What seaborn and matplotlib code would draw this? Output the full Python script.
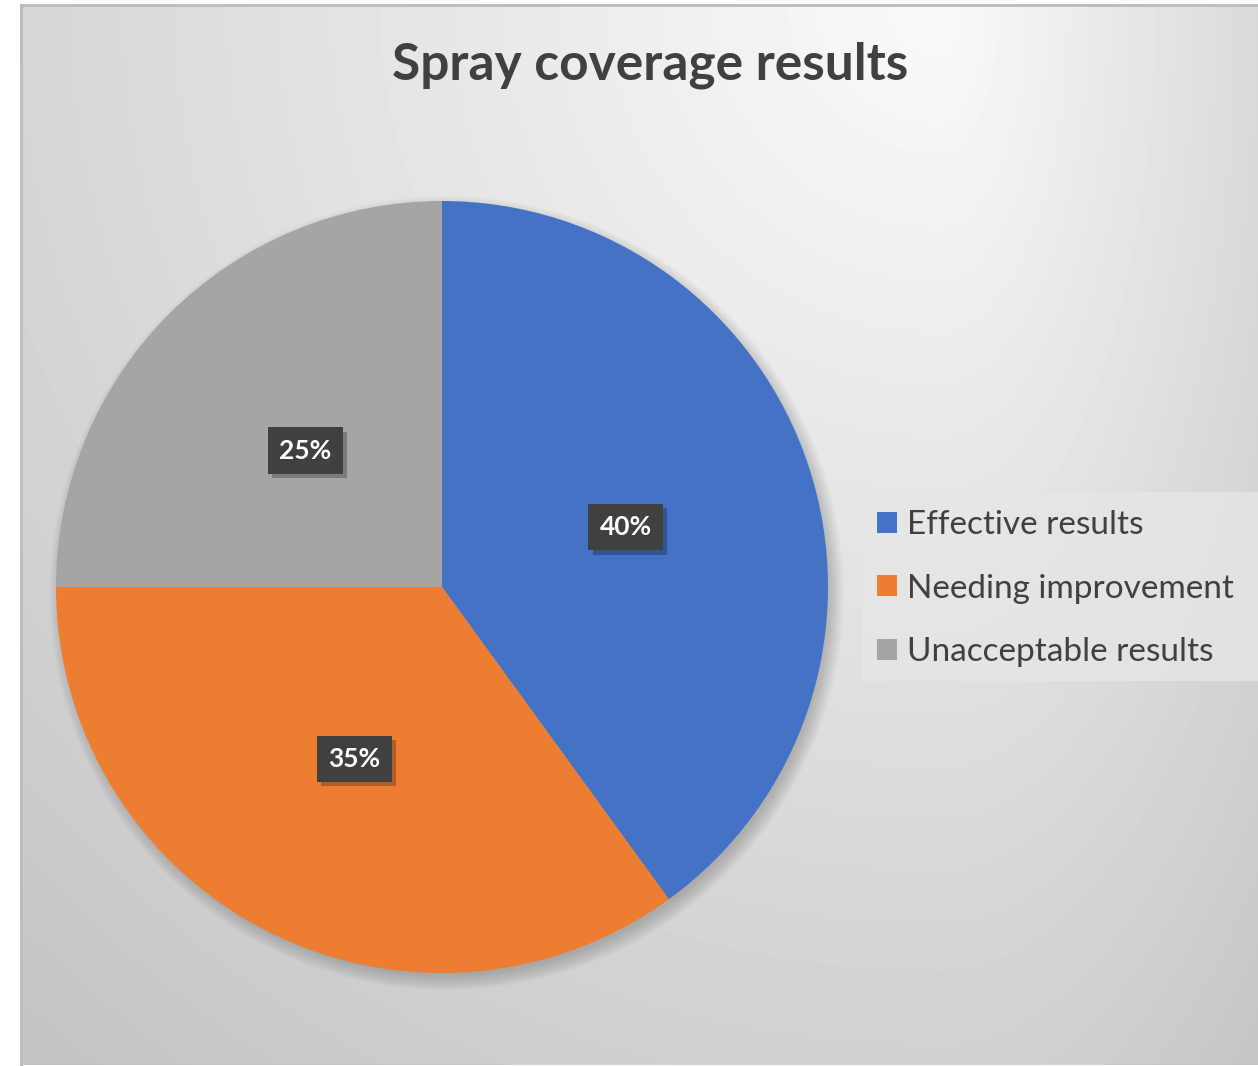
import numpy as np
import matplotlib
matplotlib.use("Agg")
import matplotlib.pyplot as plt
import matplotlib.patheffects as pe
from matplotlib.patches import Rectangle, Circle
import seaborn as sns

# ---- data ----
categories = ["Effective results", "Needing improvement", "Unacceptable results"]
shares = [40, 35, 25]
colors = ["#4472C4", "#ED7D31", "#A5A5A5"]
title = "Spray coverage results"

sns.set_theme(style="white")
plt.rcParams["font.family"] = ["Lato", "DejaVu Sans"]
palette = sns.color_palette(colors)

W, H = 1258, 1066
fig = plt.figure(figsize=(W / 100, H / 100), dpi=100)
fig.patch.set_facecolor("white")

# ---- background gradient panel ----
bg = fig.add_axes([21 / W, 1 / H, (W - 21) / W, (H - 6) / H])
ys, xs = np.mgrid[5:H - 1, 21:W]
cx, cy = 940.0, 0.0
dx = xs - cx
dx = np.where(dx > 0, dx * 2.6, dx)
d = np.sqrt(dx ** 2 + (ys - cy) ** 2)
val = np.clip(250 - 0.039 * d, 192, 250) / 255.0
bg.imshow(val, cmap="gray", vmin=0, vmax=1, aspect="auto", interpolation="bilinear")
bg.set_xticks([]); bg.set_yticks([])
for s in ["right", "bottom"]:
    bg.spines[s].set_visible(False)
for s in ["top", "left"]:
    bg.spines[s].set_color("#bcbcbc")
    bg.spines[s].set_linewidth(2)
bg.set_zorder(0)

# ---- pie ----
R = 386
cxp, cyp = 442, 587
ax = fig.add_axes([(cxp - 1.1 * R) / W, (H - cyp - 1.1 * R) / H, 2.2 * R / W, 2.2 * R / H])
ax.set_xlim(-1.1, 1.1); ax.set_ylim(-1.1, 1.1)
ax.axis("off")
ax.set_zorder(1)

# soft shadow
for i in range(12):
    ax.add_patch(Circle((0.012, -0.016), 0.99 + i * 0.0035, color="black", alpha=0.016, lw=0, zorder=0))

wedges, texts, autotexts = ax.pie(
    shares, colors=palette, startangle=90, counterclock=False, radius=1.0,
    autopct="%1.0f%%", pctdistance=0.5, wedgeprops=dict(linewidth=0),
    textprops=dict(color="white", fontsize=19, fontweight="bold"),
    frame=False,
)
ax.set_xlim(-1.1, 1.1); ax.set_ylim(-1.1, 1.1)
for t in autotexts:
    t.set_bbox(dict(boxstyle="square,pad=0.42", facecolor="#404040", edgecolor="none"))
    t.get_bbox_patch().set_path_effects([
        pe.SimplePatchShadow(offset=(3, -3), shadow_rgbFace="black", alpha=0.25), pe.Normal()])

# ---- title ----
fig.text(650 / W, 1 - 65 / H, title, ha="center", va="center",
         fontsize=37, fontweight="bold", color="#404040")

# ---- legend ----
fig.patches.append(Rectangle((862 / W, 1 - 681 / H), (W - 862) / W, (681 - 492) / H,
                             transform=fig.transFigure, facecolor="#e6e6e6",
                             edgecolor="none", alpha=0.8, zorder=2))
leg = fig.legend(wedges, categories, loc="upper left",
                 bbox_to_anchor=(854 / W, 1 - 487 / H), frameon=False,
                 fontsize=24, handlelength=0.6, handleheight=0.6,
                 handletextpad=0.3, labelspacing=1.0, borderpad=0.2)
for t in leg.get_texts():
    t.set_color("#404040")
leg.set_zorder(3)

fig.savefig("out.png", dpi=100)
